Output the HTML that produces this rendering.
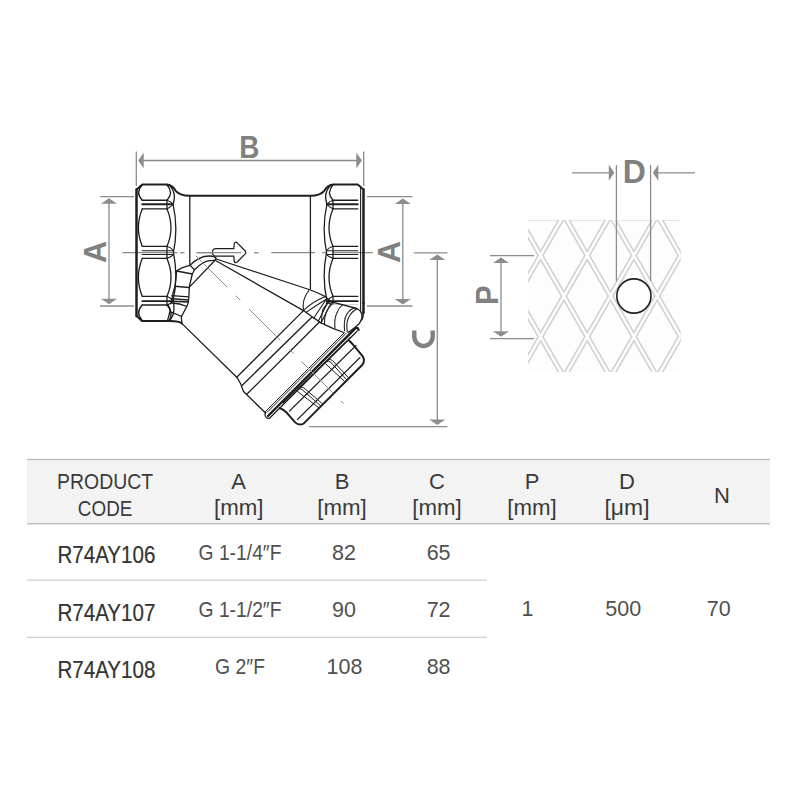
<!DOCTYPE html>
<html><head><meta charset="utf-8"><style>
html,body{margin:0;padding:0;background:#fff;}
svg{display:block;}
</style></head><body>
<svg width="800" height="800" viewBox="0 0 800 800">
<rect width="800" height="800" fill="#fff"/>
<clipPath id="mc"><rect x="528" y="220" width="152.5" height="152"/></clipPath>
<rect x="528" y="220" width="152.5" height="152" fill="#fdfdfd"/>
<line x1="528" y1="220.5" x2="680.5" y2="220.5" stroke="#e6e6e6" stroke-width="1"/>
<g clip-path="url(#mc)" fill="none">
<g stroke="#cfcfcf" stroke-width="5.6">
<line x1="120.56" y1="11.90" x2="400.52" y2="499.10"/>
<line x1="120.56" y1="580.30" x2="400.52" y2="93.10"/>
<line x1="167.23" y1="11.90" x2="447.19" y2="499.10"/>
<line x1="167.23" y1="580.30" x2="447.19" y2="93.10"/>
<line x1="213.90" y1="11.90" x2="493.86" y2="499.10"/>
<line x1="213.90" y1="580.30" x2="493.86" y2="93.10"/>
<line x1="260.57" y1="11.90" x2="540.53" y2="499.10"/>
<line x1="260.57" y1="580.30" x2="540.53" y2="93.10"/>
<line x1="307.24" y1="11.90" x2="587.20" y2="499.10"/>
<line x1="307.24" y1="580.30" x2="587.20" y2="93.10"/>
<line x1="353.91" y1="11.90" x2="633.87" y2="499.10"/>
<line x1="353.91" y1="580.30" x2="633.87" y2="93.10"/>
<line x1="400.58" y1="11.90" x2="680.54" y2="499.10"/>
<line x1="400.58" y1="580.30" x2="680.54" y2="93.10"/>
<line x1="447.25" y1="11.90" x2="727.21" y2="499.10"/>
<line x1="447.25" y1="580.30" x2="727.21" y2="93.10"/>
<line x1="493.92" y1="11.90" x2="773.88" y2="499.10"/>
<line x1="493.92" y1="580.30" x2="773.88" y2="93.10"/>
<line x1="540.59" y1="11.90" x2="820.55" y2="499.10"/>
<line x1="540.59" y1="580.30" x2="820.55" y2="93.10"/>
<line x1="587.26" y1="11.90" x2="867.22" y2="499.10"/>
<line x1="587.26" y1="580.30" x2="867.22" y2="93.10"/>
<line x1="633.93" y1="11.90" x2="913.89" y2="499.10"/>
<line x1="633.93" y1="580.30" x2="913.89" y2="93.10"/>
<line x1="680.60" y1="11.90" x2="960.56" y2="499.10"/>
<line x1="680.60" y1="580.30" x2="960.56" y2="93.10"/>
<line x1="727.27" y1="11.90" x2="1007.23" y2="499.10"/>
<line x1="727.27" y1="580.30" x2="1007.23" y2="93.10"/>
</g><g stroke="#fdfdfd" stroke-width="2.6">
<line x1="120.56" y1="11.90" x2="400.52" y2="499.10"/>
<line x1="120.56" y1="580.30" x2="400.52" y2="93.10"/>
<line x1="167.23" y1="11.90" x2="447.19" y2="499.10"/>
<line x1="167.23" y1="580.30" x2="447.19" y2="93.10"/>
<line x1="213.90" y1="11.90" x2="493.86" y2="499.10"/>
<line x1="213.90" y1="580.30" x2="493.86" y2="93.10"/>
<line x1="260.57" y1="11.90" x2="540.53" y2="499.10"/>
<line x1="260.57" y1="580.30" x2="540.53" y2="93.10"/>
<line x1="307.24" y1="11.90" x2="587.20" y2="499.10"/>
<line x1="307.24" y1="580.30" x2="587.20" y2="93.10"/>
<line x1="353.91" y1="11.90" x2="633.87" y2="499.10"/>
<line x1="353.91" y1="580.30" x2="633.87" y2="93.10"/>
<line x1="400.58" y1="11.90" x2="680.54" y2="499.10"/>
<line x1="400.58" y1="580.30" x2="680.54" y2="93.10"/>
<line x1="447.25" y1="11.90" x2="727.21" y2="499.10"/>
<line x1="447.25" y1="580.30" x2="727.21" y2="93.10"/>
<line x1="493.92" y1="11.90" x2="773.88" y2="499.10"/>
<line x1="493.92" y1="580.30" x2="773.88" y2="93.10"/>
<line x1="540.59" y1="11.90" x2="820.55" y2="499.10"/>
<line x1="540.59" y1="580.30" x2="820.55" y2="93.10"/>
<line x1="587.26" y1="11.90" x2="867.22" y2="499.10"/>
<line x1="587.26" y1="580.30" x2="867.22" y2="93.10"/>
<line x1="633.93" y1="11.90" x2="913.89" y2="499.10"/>
<line x1="633.93" y1="580.30" x2="913.89" y2="93.10"/>
<line x1="680.60" y1="11.90" x2="960.56" y2="499.10"/>
<line x1="680.60" y1="580.30" x2="960.56" y2="93.10"/>
<line x1="727.27" y1="11.90" x2="1007.23" y2="499.10"/>
<line x1="727.27" y1="580.30" x2="1007.23" y2="93.10"/>
</g>
</g>
<g stroke="#8c8c8c" stroke-width="1.3" fill="none">
<line x1="136.3" y1="151.5" x2="136.3" y2="186"/>
<line x1="363.7" y1="151.5" x2="363.7" y2="186"/>
<line x1="140" y1="160.5" x2="360" y2="160.5"/>
<line x1="100" y1="196.6" x2="134" y2="196.6"/>
<line x1="100" y1="306" x2="134" y2="306"/>
<line x1="109" y1="200" x2="109" y2="302"/>
<line x1="367" y1="196.6" x2="412.5" y2="196.6"/>
<line x1="367" y1="306" x2="412.5" y2="306"/>
<line x1="402.8" y1="200" x2="402.8" y2="302"/>
<line x1="413.7" y1="252.8" x2="447.3" y2="252.8"/>
<line x1="309" y1="426.6" x2="447.3" y2="426.6"/>
<line x1="437.3" y1="257" x2="437.3" y2="422"/>
<line x1="122.4" y1="252.7" x2="177.5" y2="252.7"/>
<line x1="180" y1="252.7" x2="184.5" y2="252.7"/>
<line x1="196.7" y1="252.7" x2="240.6" y2="252.7"/>
<line x1="254" y1="252.7" x2="258.6" y2="252.7"/>
<line x1="271.3" y1="252.7" x2="315" y2="252.7"/>
<line x1="322" y1="252.7" x2="326" y2="252.7"/>
<line x1="332.5" y1="252.7" x2="373" y2="252.7"/>
<line x1="572" y1="172.8" x2="610" y2="172.8"/>
<line x1="657" y1="172.8" x2="695" y2="172.8"/>
<line x1="616.4" y1="165" x2="616.4" y2="281"/>
<line x1="650.6" y1="165" x2="650.6" y2="281"/>
<line x1="490" y1="255.6" x2="534" y2="255.6"/>
<line x1="490" y1="338.7" x2="534" y2="338.7"/>
<line x1="501" y1="260" x2="501" y2="334"/>
</g>
<path d="M138.2,160.5 L143.7,152.5 L143.7,168.5 Z" fill="#8c8c8c"/>
<path d="M361.8,160.5 L356.3,152.5 L356.3,168.5 Z" fill="#8c8c8c"/>
<path d="M109,198.3 L117,203.8 L101,203.8 Z" fill="#8c8c8c"/>
<path d="M109,304.3 L117,298.8 L101,298.8 Z" fill="#8c8c8c"/>
<path d="M402.8,198.5 L410.8,204.0 L394.8,204.0 Z" fill="#8c8c8c"/>
<path d="M402.8,304.5 L410.8,299.0 L394.8,299.0 Z" fill="#8c8c8c"/>
<path d="M437.3,254.5 L445.3,260.0 L429.3,260.0 Z" fill="#8c8c8c"/>
<path d="M437.3,425 L445.3,419.5 L429.3,419.5 Z" fill="#8c8c8c"/>
<path d="M614.3,172.8 L608.8,164.8 L608.8,180.8 Z" fill="#8c8c8c"/>
<path d="M652.8,172.8 L658.3,164.8 L658.3,180.8 Z" fill="#8c8c8c"/>
<path d="M501,257.5 L509,263.0 L493,263.0 Z" fill="#8c8c8c"/>
<path d="M501,336.8 L509,331.3 L493,331.3 Z" fill="#8c8c8c"/>
<text transform="translate(249.3,147) rotate(0) scale(0.87,1)" x="0" y="11" font-family="Liberation Sans" font-weight="bold" fill="#808080" font-size="32" text-anchor="middle">B</text>
<text transform="translate(634.4,171) scale(1.0,1.05)" x="0" y="11" font-family="Liberation Sans" font-weight="bold" fill="#808080" font-size="32" text-anchor="middle">D</text>
<text transform="translate(95,251.8) rotate(-90) scale(0.96,1)" x="0" y="11" font-family="Liberation Sans" font-weight="bold" fill="#808080" font-size="32" text-anchor="middle">A</text>
<text transform="translate(388.8,251.9) rotate(-90) scale(0.96,1)" x="0" y="11" font-family="Liberation Sans" font-weight="bold" fill="#808080" font-size="32" text-anchor="middle">A</text>
<path d="M414.3,330.6 L414.3,336.8 A9.2,9.2 0 0 0 432.7,336.8 L432.7,330.6" fill="none" stroke="#808080" stroke-width="4.4"/>
<text transform="translate(487.4,295.2) rotate(-90) scale(0.92,1)" x="0" y="11" font-family="Liberation Sans" font-weight="bold" fill="#808080" font-size="32" text-anchor="middle">P</text>
<g stroke="#1e1e1e" stroke-width="1.3" fill="none" stroke-linejoin="round" stroke-linecap="round">
<g id="nutL"><path d="M136.5,189.5 L136.5,316" stroke-width="2.5"/>
<path d="M136.5,189.5 L142.25,184.5 L167,184.5 Q173,185.5 176,191.25 Q180.5,195.75 189,195.75 L250,195.75" stroke-width="1.8"/>
<path d="M136.5,316 L142,321 L170,321 Q179,321 182,323.6" stroke-width="1.8"/>
<path d="M167,185 Q174,192.5 167,200.25"/>
<path d="M167,208.9 Q175,227.6 167,246.3"/>
<path d="M167,258.4 Q175,277.3 167,296.3"/>
<path d="M167,305 Q174,313 169,320.5"/>
<path d="M142.25,200.25 L167,200.25 M142.25,208.9 L167,208.9 M142.25,246.3 L167,246.3 M142.25,258.4 L167,258.4 M142.25,296.3 L167,296.3 M142.25,305 L167,305 M167,200.25 L167,208.9 M167,246.3 L167,258.4 M167,296.3 L167,305"/>
<path d="M142.25,204.2 L173,204.2 M142.25,301.1 L173,301.1" stroke-width="1.9"/>
<path d="M142.25,250.8 L173,250.8" stroke-width="1.1"/>
<path d="M142.25,254.5 L173,254.5" stroke-width="1.2"/>
<path d="M167,200.25 Q171,201.5 173,204.2 Q171,207 167,208.9 M167,246.3 Q171,247.5 173.4,250.5 M167,258.4 Q171,257.2 173.4,254.6 M167,296.3 Q171,298 173,301.1 Q171,303.5 167,305" stroke-width="1.1"/>
<path d="M169.25,185 Q177,193 173,204.2 Q178.5,228 173.4,252.6 Q178.5,277 173,301.1 Q176,312 170,320.5"/></g>
<path d="M142.25,185 Q135,192.5 142.25,200.25 M142.25,208.9 Q134.5,227.6 142.25,246.3 M142.25,258.4 Q134.5,277.3 142.25,296.3 M142.25,305 Q135,313 142.25,320.5"/>
<path d="M360.6,188 L360.6,312" stroke-width="1.1"/>
<clipPath id="rc"><rect x="250" y="150" width="130" height="154.2"/></clipPath>
<g clip-path="url(#rc)"><use href="#nutL" transform="translate(500,0) scale(-1,1)"/></g>
<path d="M363.5,303 L363.5,313" stroke-width="2.5"/>
<path d="M189.8,196 L189.8,265 M310.4,196 L310.4,289"/>
<path d="M216,248.6 L233.8,248.6 L234.2,244 Q234.8,241.2 237.2,242.8 L245.2,251 Q246.4,252.4 245.2,253.8 L237.2,262 Q234.8,263.8 234.2,261 L233.8,256.2 L216,256.2 Q212.5,256 212.5,252.4 Q212.5,248.6 216,248.6 Z" stroke-width="1.2" fill="#fff"/>
<line x1="196.7" y1="252.7" x2="240.6" y2="252.7" stroke="#8c8c8c" stroke-width="1.3"/>
<path d="M176.6,271 Q182,267 190.1,265.4 C196,259 203,256 209.4,256 C213,256 215.5,256.8 216.2,258.6"/>
<path d="M194.5,269.75 C199,265 205,261 210,260.6 C213,260.4 214.5,260.4 215.5,259.7 L190.1,286.4"/>
<path d="M190.1,265.4 L194.5,269.75 L192.3,274 L189.4,286.25 L188.75,298.75 Q188.5,303 186.9,306.25 L181.25,316.9 L182,323.6"/>
<path d="M176.6,271 L192.3,274 M175,286.25 L188.75,287.5 M171.9,295.6 L188.4,296.9 M171.9,298.75 L188.3,300 M172,301.25 L188.3,302 M172,303 Q180,303.5 186.25,306.25 M170.6,311.9 L181.25,316.25"/>
<path d="M176.6,271 Q176,279 175,286.25 Q173,292 171.9,298.75 Q171,302 170.9,303.75 M168.1,305 Q170.5,309 170,311.25 Q169,316 167.5,320.5"/>
<path d="M215.5,258.75 L309,289.5 Q318,292.5 325.4,296.6"/>
<path d="M215.5,260.5 L303.5,310.6 Q312,317 321,322.9 Q333,329 344,332.5"/>
<path d="M182,323.6 L236.75,377.2 Q241,383 243.5,391.5 L265.5,413"/>
<path d="M236.75,377.2 L303.5,310.6 M242,385.5 L312,317 M246.5,394.5 L319.5,322"/>
<path d="M308.75,290.5 Q301.5,300 303.5,310.6 M325.4,296.6 Q312,302 303.5,310.6 M326.3,299.2 Q315,306 306.1,312.4" stroke-width="1.1"/>
<path d="M327,298 L313.5,318.5 M329,300 L318.4,321.1 M331.5,301.9 L321,322.9" stroke-width="1.1"/>
<path d="M325.4,296.6 Q329,300 331.5,301.9 L356.9,308.5 Q362.5,311 362,318 Q360,324 356,326.5 Q352,330 348,332.5"/>
<path d="M347.25,331.6 Q346,321 349,316.75 Q352,311 356.9,308.9 M344.6,330.75 Q343.5,320 346.4,315 Q349.5,309.5 354.25,308 M335,328 Q334,319 336.75,313.25 Q338.5,308 342,305.4 M324.5,323.75 Q324,318 326.25,312.4 Q328.5,307 332.4,303.6 M321.5,322.5 Q321.5,315 322.75,309.75 Q325.5,304.5 329.75,301.9" stroke-width="1.1"/>
<path d="M363.3,310 Q363.5,318 361.5,320" stroke-width="1.5"/>
<path d="M265.5,411.5 L344,333 M267,412.4 L346,333.4" stroke-width="1"/>
<path d="M268,416 L354.8,328.9 Q357.5,326.5 358.5,329.8" stroke-width="2.4"/>
<path d="M270,417.8 L357,331.2 M265.5,411.5 Q264,416.5 267,418 Q269,419 270,417.8" stroke-width="1.2"/>
<path d="M279.6,408 Q283.5,409.5 286.8,412.8 L295.2,422.4 Q298.8,426 303.6,423.6 L362.4,364.8 Q365.5,360 362.4,355.8 L352.8,344.4 Q350.5,341.5 349.2,340.8" stroke-width="2"/>
<path d="M283,403 L350.5,337.5 M289.5,411 L356,345.5 M297.5,419.5 L360,357.5" stroke-width="1.1"/>
<path d="M298.5,389 Q300,388 302,389.5 L320.4,405.6 M300.5,387.2 Q302.5,386.5 304,388 L322.4,403.8 M297.5,391.5 L318.5,407.5" stroke-width="1"/>
<path d="M326.8,361.5 Q328.5,360.5 330.5,362 L346.2,379.2 M328.8,359.7 Q331,359 332.5,360.5 L348.2,377.4 M325.8,364 L344.2,381" stroke-width="1"/>
<line x1="196" y1="256" x2="227" y2="287" stroke="#8c8c8c" stroke-width="1"/>
<line x1="236" y1="296" x2="240" y2="300" stroke="#8c8c8c" stroke-width="1"/>
<line x1="249.25" y1="309.25" x2="280" y2="340" stroke="#8c8c8c" stroke-width="1"/>
<line x1="289.5" y1="349.5" x2="293.5" y2="353.5" stroke="#8c8c8c" stroke-width="1"/>
<line x1="301.75" y1="361.75" x2="333.25" y2="393.25" stroke="#8c8c8c" stroke-width="1"/>
<line x1="341" y1="401" x2="343.5" y2="403.5" stroke="#8c8c8c" stroke-width="1"/>
</g>
<circle cx="633.9" cy="296" r="17.1" fill="#fff" stroke="#222" stroke-width="1.6"/>
<rect x="27" y="459" width="743" height="65" fill="#f3f3f3"/>
<rect x="27" y="458.8" width="743" height="1.4" fill="#bdbdbd"/>
<rect x="27" y="523" width="743" height="1.4" fill="#bdbdbd"/>
<rect x="27" y="579.5" width="460" height="1.3" fill="#d0d0d0"/>
<rect x="27" y="636.7" width="460" height="1.3" fill="#d0d0d0"/>
<text x="105.1" y="489" font-family="Liberation Sans" font-size="22" fill="#3a3a3a" text-anchor="middle" textLength="96" lengthAdjust="spacingAndGlyphs">PRODUCT</text>
<text x="105.1" y="516.1" font-family="Liberation Sans" font-size="22" fill="#3a3a3a" text-anchor="middle" textLength="54.5" lengthAdjust="spacingAndGlyphs">CODE</text>
<text x="238.5" y="489" font-family="Liberation Sans" font-size="22" fill="#3a3a3a" text-anchor="middle">A</text>
<text x="342" y="489" font-family="Liberation Sans" font-size="22" fill="#3a3a3a" text-anchor="middle">B</text>
<text x="437" y="489" font-family="Liberation Sans" font-size="22" fill="#3a3a3a" text-anchor="middle">C</text>
<text x="532" y="489" font-family="Liberation Sans" font-size="22" fill="#3a3a3a" text-anchor="middle">P</text>
<text x="627" y="489" font-family="Liberation Sans" font-size="22" fill="#3a3a3a" text-anchor="middle">D</text>
<text x="238.7" y="515.3" font-family="Liberation Sans" font-size="22" fill="#3a3a3a" text-anchor="middle" textLength="49.5" lengthAdjust="spacingAndGlyphs">[mm]</text>
<text x="342" y="515.3" font-family="Liberation Sans" font-size="22" fill="#3a3a3a" text-anchor="middle" textLength="49.5" lengthAdjust="spacingAndGlyphs">[mm]</text>
<text x="437" y="515.3" font-family="Liberation Sans" font-size="22" fill="#3a3a3a" text-anchor="middle" textLength="49.5" lengthAdjust="spacingAndGlyphs">[mm]</text>
<text x="532" y="515.3" font-family="Liberation Sans" font-size="22" fill="#3a3a3a" text-anchor="middle" textLength="49.5" lengthAdjust="spacingAndGlyphs">[mm]</text>
<text x="627" y="515.3" font-family="Liberation Sans" font-size="22" fill="#3a3a3a" text-anchor="middle" textLength="45" lengthAdjust="spacingAndGlyphs">[μm]</text>
<text x="722" y="502.5" font-family="Liberation Sans" font-size="22" fill="#3a3a3a" text-anchor="middle">N</text>
<text x="106.4" y="562.8" font-family="Liberation Sans" font-size="23" fill="#333" stroke="#333" stroke-width="0.2" text-anchor="middle" textLength="98" lengthAdjust="spacingAndGlyphs">R74AY106</text>
<text x="240" y="559.8" font-family="Liberation Sans" font-size="21.5" fill="#505050" text-anchor="middle" textLength="83" lengthAdjust="spacingAndGlyphs">G 1-1/4″F</text>
<text x="343.9" y="559.8" font-family="Liberation Sans" font-size="21.5" fill="#505050" text-anchor="middle">82</text>
<text x="438.6" y="559.8" font-family="Liberation Sans" font-size="21.5" fill="#505050" text-anchor="middle">65</text>
<text x="106.4" y="620.7" font-family="Liberation Sans" font-size="23" fill="#333" stroke="#333" stroke-width="0.2" text-anchor="middle" textLength="98" lengthAdjust="spacingAndGlyphs">R74AY107</text>
<text x="240" y="616.6" font-family="Liberation Sans" font-size="21.5" fill="#505050" text-anchor="middle" textLength="83" lengthAdjust="spacingAndGlyphs">G 1-1/2″F</text>
<text x="343.9" y="616.6" font-family="Liberation Sans" font-size="21.5" fill="#505050" text-anchor="middle">90</text>
<text x="438.6" y="616.6" font-family="Liberation Sans" font-size="21.5" fill="#505050" text-anchor="middle">72</text>
<text x="106.4" y="678" font-family="Liberation Sans" font-size="23" fill="#333" stroke="#333" stroke-width="0.2" text-anchor="middle" textLength="98" lengthAdjust="spacingAndGlyphs">R74AY108</text>
<text x="240" y="673.6" font-family="Liberation Sans" font-size="21.5" fill="#505050" text-anchor="middle" textLength="50" lengthAdjust="spacingAndGlyphs">G 2″F</text>
<text x="344.5" y="673.6" font-family="Liberation Sans" font-size="21.5" fill="#505050" text-anchor="middle">108</text>
<text x="438.6" y="673.6" font-family="Liberation Sans" font-size="21.5" fill="#505050" text-anchor="middle">88</text>
<text x="527.5" y="616" font-family="Liberation Sans" font-size="21.5" fill="#505050" text-anchor="middle">1</text>
<text x="623.3" y="616" font-family="Liberation Sans" font-size="21.5" fill="#505050" text-anchor="middle">500</text>
<text x="718.8" y="616" font-family="Liberation Sans" font-size="21.5" fill="#505050" text-anchor="middle">70</text>
</svg>
</body></html>
